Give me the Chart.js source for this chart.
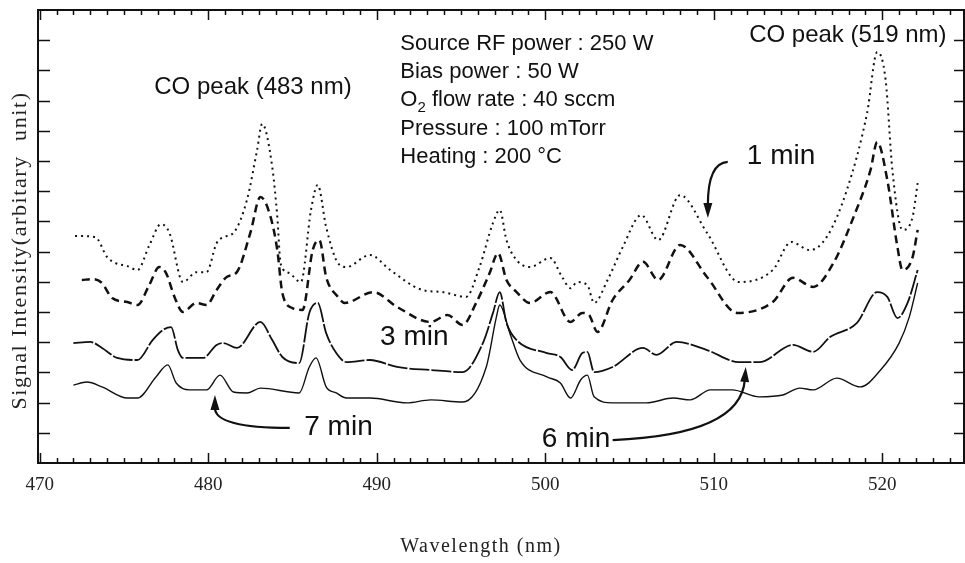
<!DOCTYPE html>
<html>
<head>
<meta charset="utf-8">
<script src="https://cdn.jsdelivr.net/npm/chart.js@4.4.1/dist/chart.umd.min.js"></script>
<style>
html, body { margin: 0; padding: 0; background: #fff; }
#wrap { width: 965px; height: 563px; }
</style>
</head>
<body>
<div id="wrap"><canvas id="spectrumChart" width="965" height="563"></canvas></div>
<script>
// 1 min (점선)
const wl1 = [472.1, 473.3, 474.0, 474.5, 475.2, 475.8, 476.5, 477.2, 477.7, 478.5, 479.3, 479.9, 480.5, 480.9, 481.5,
    482.3, 482.9, 483.2, 483.8, 484.1, 484.3, 484.8, 485.5, 486.1, 486.5, 487.0, 487.7, 488.2, 489.6, 490.8, 492.7,
    493.9, 495.3, 496.1, 496.9, 497.3, 497.7, 498.3, 499.1, 500.3, 501.0, 501.5, 501.9, 502.5, 502.9, 503.7, 504.6,
    505.7, 506.7, 508.0, 509.6, 511.5, 513.5, 514.6, 515.7, 516.7, 517.9, 519.1, 519.7, 520.2, 520.6, 521.2, 521.8, 522.1];
const int1 = [7.52, 7.48, 6.82, 6.62, 6.52, 6.39, 7.2, 7.91, 7.62, 5.99, 6.32, 6.32, 7.28, 7.48, 7.62,
    8.71, 10.36, 11.23, 9.8, 8.15, 6.6, 6.29, 5.99, 8.38, 9.21, 7.81, 6.62, 6.49, 6.89, 6.39, 5.73,
    5.66, 5.5, 6.49, 7.95, 8.38, 7.38, 6.72, 6.49, 6.79, 6.16, 5.79, 5.99, 5.89, 5.3, 6.06, 7.15,
    8.21, 7.38, 8.87, 7.62, 5.99, 6.39, 7.32, 7.05, 7.48, 9.04, 11.59, 13.61, 12.68, 9.7, 7.72, 8.15, 9.27];

// 3 min (파선)
const wl3 = [472.5, 473.2, 473.7, 474.3, 475.2, 475.8, 476.5, 477.1, 477.5, 478.0, 478.5, 479.3, 479.9, 480.5, 481.1,
    481.7, 482.5, 483.1, 483.7, 484.1, 484.4, 485.0, 485.6, 486.2, 486.6, 487.0, 487.7, 488.1, 489.8, 491.2, 493.2,
    494.2, 495.1, 495.9, 496.7, 497.2, 497.7, 498.3, 499.1, 500.3, 501.5, 502.2, 502.6, 503.1, 504.0, 505.0, 505.8,
    506.7, 508.0, 509.6, 511.4, 513.5, 514.7, 515.9, 517.1, 518.3, 519.3, 519.7, 520.3, 520.9, 521.2, 521.8, 522.1];
const int3 = [6.06, 6.09, 5.96, 5.46, 5.33, 5.23, 5.89, 6.49, 6.29, 5.5, 5.0, 5.3, 5.23, 5.73, 6.16,
    6.32, 7.62, 8.81, 8.15, 7.05, 5.63, 5.13, 5.07, 7.05, 7.38, 6.16, 5.5, 5.3, 5.66, 5.17, 4.67,
    4.9, 4.57, 5.3, 6.29, 6.95, 6.06, 5.66, 5.3, 5.66, 4.67, 4.97, 4.9, 4.34, 5.4, 6.06, 6.66,
    6.06, 7.22, 6.16, 4.97, 5.33, 6.13, 5.83, 6.62, 8.15, 9.7, 10.63, 9.37, 7.15, 6.39, 6.82, 7.72];

// 6 min (실선)
const wl6 = [472.0, 473.0, 473.7, 474.6, 475.8, 476.7, 477.3, 477.8, 478.2, 478.5, 479.7, 480.5, 480.9, 481.7, 483.1,
    483.8, 484.4, 485.4, 486.0, 486.5, 487.0, 487.6, 488.2, 489.6, 491.2, 493.2, 495.1, 496.3, 496.9, 497.3, 497.7,
    498.3, 500.1, 500.9, 501.6, 502.2, 502.5, 502.9, 504.0, 505.8, 506.6, 507.8, 509.6, 511.5, 512.7, 514.7, 515.9,
    516.9, 518.5, 519.7, 520.3, 520.9, 521.5, 522.1];
const int6 = [3.97, 4.01, 3.81, 3.48, 3.41, 4.07, 4.4, 4.5, 3.74, 3.48, 3.48, 3.91, 3.97, 3.81, 4.67,
    4.07, 3.51, 3.31, 4.97, 5.3, 4.3, 3.64, 3.34, 3.41, 3.18, 3.08, 3.01, 3.97, 4.97, 5.66, 4.64,
    4.07, 3.64, 3.51, 3.08, 3.64, 3.68, 3.01, 3.18, 3.81, 3.58, 4.01, 3.74, 3.34, 3.34, 3.91, 3.68,
    4.17, 4.64, 5.66, 5.5, 4.8, 5.3, 6.39];

// 7 min (가는 실선)
const wl7 = [472.0, 472.8, 473.7, 475.2, 475.8, 476.9, 477.6, 478.1, 478.9, 479.9, 480.7, 481.5, 482.3, 483.1, 485.4,
    486.0, 486.4, 487.0, 487.6, 488.2, 489.6, 491.8, 493.2, 495.1, 496.5, 497.1, 497.3, 497.9, 498.5, 500.1, 500.9,
    501.5, 502.1, 502.5, 502.9, 504.0, 506.0, 507.6, 508.6, 509.8, 511.1, 512.7, 514.1, 515.1, 515.9, 517.3, 518.7,
    519.9, 521.0, 521.6, 522.1];
const int7 = [2.58, 2.68, 2.52, 2.15, 2.15, 2.85, 3.25, 2.65, 2.42, 2.42, 2.91, 2.35, 2.32, 2.48, 2.32,
    3.18, 3.48, 2.52, 2.32, 2.15, 2.15, 1.99, 2.09, 2.02, 3.18, 4.83, 5.23, 4.3, 3.41, 2.85, 2.65,
    2.15, 2.75, 2.91, 2.19, 1.99, 1.99, 2.15, 2.09, 2.42, 2.42, 2.19, 2.25, 2.48, 2.42, 2.81, 2.52,
    3.08, 3.97, 4.83, 5.96];

// 축 눈금
const xTickValues = [470, 480, 490, 500, 510, 520];
const xRange = [469.9, 524.85];
const yRange = [0, 15];
const xTitle = 'Wavelength (nm)';
const yTitle = 'Signal Intensity(arbitary  unit)';

// 주석 텍스트 (데이터 좌표)
const notes = [
    { text: 'CO peak (483 nm)', x: 476.8, y: 12.45, size: 24 },
    { text: 'CO peak (519 nm)', x: 512.1, y: 14.17, size: 24 },
    { text: 'Source RF power : 250 W', x: 491.4, y: 13.87, size: 22 },
    { text: 'Bias power : 50 W', x: 491.4, y: 12.95, size: 22 },
    { text: 'O|2| flow rate : 40 sccm', x: 491.4, y: 12.03, size: 22 },
    { text: 'Pressure : 100 mTorr', x: 491.4, y: 11.06, size: 22 },
    { text: 'Heating : 200 \u00B0C', x: 491.4, y: 10.13, size: 22 },
    { text: '1 min', x: 511.96, y: 10.15, size: 28 },
    { text: '3 min', x: 490.2, y: 4.17, size: 28 },
    { text: '7 min', x: 485.7, y: 1.19, size: 28 },
    { text: '6 min', x: 499.8, y: 0.79, size: 28 }
];

// 화살표: 시작점, 제어점, 끝점 (데이터 좌표)
const arrows = [
    { from: [510.83, 9.97], ctrl: [509.65, 9.93], to: [509.65, 8.11] },
    { from: [484.84, 1.16], ctrl: [480.4, 1.16], to: [480.4, 2.25] },
    { from: [504.0, 0.76], ctrl: [511.6, 0.93], to: [511.9, 3.18] }
];

const toPoints = (xs, ys) => xs.map((v, i) => ({ x: v, y: ys[i] }));
const serif = "'Liberation Serif', 'Times New Roman', serif";
const sans = "'Liberation Sans', Arial, sans-serif";

// 테두리 + 안쪽 눈금 + 축 제목
const frameTicks = {
    id: 'frameTicks',
    afterDraw(chart) {
        const { ctx, chartArea: a, scales: { x, y } } = chart;
        ctx.save();
        ctx.strokeStyle = '#111';
        ctx.lineWidth = 1.5;
        ctx.beginPath();
        for (let v = 470; v <= xRange[1]; v++) {
            const px = Math.round(x.getPixelForValue(v)) + 0.5;
            const len = v % 10 === 0 ? 10 : 5;
            ctx.moveTo(px, a.bottom); ctx.lineTo(px, a.bottom - len);
            ctx.moveTo(px, a.top); ctx.lineTo(px, a.top + len);
        }
        for (let v = yRange[0] + 1; v < yRange[1]; v++) {
            const py = Math.round(y.getPixelForValue(v)) + 0.5;
            ctx.moveTo(a.left, py); ctx.lineTo(a.left + 12, py);
            ctx.moveTo(a.right, py); ctx.lineTo(a.right - 10, py);
        }
        ctx.stroke();
        ctx.lineWidth = 2;
        ctx.strokeRect(a.left, a.top, a.right - a.left, a.bottom - a.top);

        ctx.fillStyle = '#222';
        ctx.textAlign = 'center';
        ctx.textBaseline = 'middle';
        ctx.letterSpacing = '1.5px';
        ctx.font = '20px ' + serif;
        ctx.fillText(xTitle, (a.left + a.right) / 2 - 20, a.bottom + 84);
        ctx.translate(a.left - 18, (a.top + a.bottom) / 2 + 14);
        ctx.rotate(-Math.PI / 2);
        ctx.font = '22px ' + serif;
        ctx.letterSpacing = '1.6px';
        ctx.fillText(yTitle, 0, 0);
        ctx.restore();
    }
};

// 주석 및 화살표 그리기
const annotations = {
    id: 'annotations',
    afterDatasetsDraw(chart) {
        const { ctx, scales: { x, y } } = chart;
        ctx.save();
        ctx.fillStyle = '#111';
        ctx.textBaseline = 'middle';
        notes.forEach(n => {
            let px = x.getPixelForValue(n.x);
            const py = y.getPixelForValue(n.y);
            n.text.split('|').forEach((p, i) => {
                const sub = i % 2 === 1;
                ctx.font = (sub ? Math.round(n.size * 0.7) : n.size) + 'px ' + sans;
                ctx.fillText(p, px, sub ? py + n.size * 0.35 : py);
                px += ctx.measureText(p).width;
            });
        });

        ctx.strokeStyle = '#111';
        ctx.lineWidth = 2.2;
        arrows.forEach(ar => {
            const p0 = [x.getPixelForValue(ar.from[0]), y.getPixelForValue(ar.from[1])];
            const p1 = [x.getPixelForValue(ar.ctrl[0]), y.getPixelForValue(ar.ctrl[1])];
            const p2 = [x.getPixelForValue(ar.to[0]), y.getPixelForValue(ar.to[1])];
            const dx = p2[0] - p1[0], dy = p2[1] - p1[1];
            const d = Math.hypot(dx, dy);
            const ux = dx / d, uy = dy / d;
            const head = 15, half = 4.5;
            const base = [p2[0] - ux * head, p2[1] - uy * head];
            ctx.beginPath();
            ctx.moveTo(p0[0], p0[1]);
            ctx.quadraticCurveTo(p1[0], p1[1], base[0] + ux * 2, base[1] + uy * 2);
            ctx.stroke();
            ctx.beginPath();
            ctx.moveTo(p2[0], p2[1]);
            ctx.lineTo(base[0] - uy * half, base[1] + ux * half);
            ctx.lineTo(base[0] + uy * half, base[1] - ux * half);
            ctx.closePath();
            ctx.fill();
        });
        ctx.restore();
    }
};

// 차트 초기화
function initializeChart() {
    const ctx = document.getElementById('spectrumChart').getContext('2d');
    new Chart(ctx, {
        type: 'line',
        data: {
            datasets: [
                { label: '1 min', data: toPoints(wl1, int1), borderColor: '#111', borderWidth: 2, borderDash: [2, 4] },
                { label: '3 min', data: toPoints(wl3, int3), borderColor: '#111', borderWidth: 2.5, borderDash: [8, 5] },
                { label: '6 min', data: toPoints(wl6, int6), borderColor: '#111', borderWidth: 1.8, borderDash: [20, 2] },
                { label: '7 min', data: toPoints(wl7, int7), borderColor: '#111', borderWidth: 1.4 }
            ]
        },
        options: {
            responsive: false,
            animation: false,
            devicePixelRatio: 1,
            layout: { padding: { top: 10, right: 1, left: 0, bottom: 0 } },
            elements: {
                point: { radius: 0 },
                line: { tension: 0.4, cubicInterpolationMode: 'monotone', fill: false }
            },
            plugins: { legend: { display: false }, tooltip: { enabled: false } },
            scales: {
                x: {
                    type: 'linear',
                    min: xRange[0],
                    max: xRange[1],
                    grid: { display: false, drawTicks: false },
                    border: { display: false },
                    afterBuildTicks: s => { s.ticks = xTickValues.map(v => ({ value: v })); },
                    ticks: {
                        autoSkip: false, maxRotation: 0, padding: 11, color: '#222',
                        font: { family: serif, size: 19 }
                    },
                    afterFit: s => { s.height = 100; }
                },
                y: {
                    type: 'linear',
                    min: yRange[0],
                    max: yRange[1],
                    grid: { display: false, drawTicks: false },
                    border: { display: false },
                    ticks: { display: false, stepSize: 1 },
                    afterFit: s => { s.width = 38; }
                }
            }
        },
        plugins: [frameTicks, annotations]
    });
}

document.addEventListener('DOMContentLoaded', initializeChart);
</script>
</body>
</html>
